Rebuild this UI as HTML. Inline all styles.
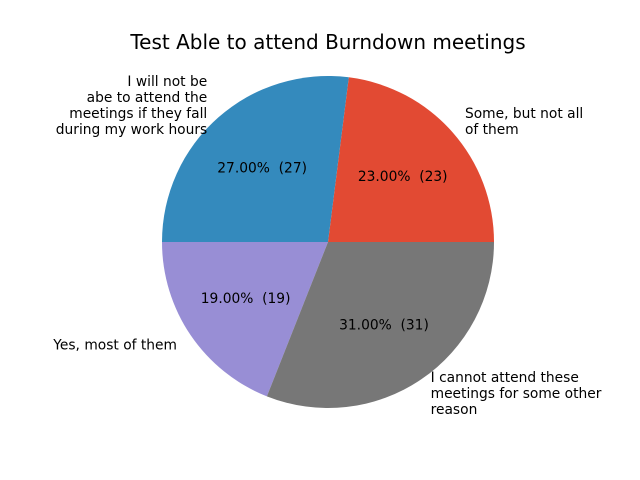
<!DOCTYPE html>
<html><head><meta charset="utf-8"><style>
body{margin:0;background:#fff}
svg{display:block;font-family:"DejaVu Sans","Liberation Sans",sans-serif}
text{white-space:pre}
</style></head><body>
<svg id="c" width="640" height="480">
<text x="328" y="49" text-anchor="middle" font-size="20">Test Able to attend Burndown meetings</text>
</svg>
<script>
const categories=[["Some, but not all","of them"],["I will not be","abe to attend the","meetings if they fall","during my work hours"],["Yes, most of them"],["I cannot attend these","meetings for some other","reason"]];
const values=[23,27,19,31];
const colors=["#E24A33","#348ABD","#988ED5","#777777"];
const svg=document.getElementById('c');
const NS="http://www.w3.org/2000/svg";
const cx=328,cy=242,R=166;
const total=values.reduce((a,b)=>a+b,0);
let a0=0;
function pt(a,r){return [cx+r*Math.cos(a),cy-r*Math.sin(a)];}
values.forEach((v,i)=>{
  const a1=a0+v/total*2*Math.PI;
  const p0=pt(a0,R),p1=pt(a1,R);
  const path=document.createElementNS(NS,'path');
  path.setAttribute('d',`M${cx},${cy}L${p0[0]},${p0[1]}A${R},${R} 0 ${a1-a0>Math.PI?1:0} 0 ${p1[0]},${p1[1]}Z`);
  path.setAttribute('fill',colors[i]);
  
  
  svg.appendChild(path);
  const m=(a0+a1)/2;
  const pp=pt(m,R*0.6);
  const t=document.createElementNS(NS,'text');
  t.setAttribute('x',pp[0]);t.setAttribute('y',pp[1]+5);
  t.setAttribute('text-anchor','middle');t.setAttribute('font-size','13.8');
  t.setAttribute('xml:space','preserve');
  
  
  t.textContent=(v/total*100).toFixed(2)+'%  ('+v+')';
  svg.appendChild(t);
  const lp=pt(m,R*1.1);
  const lines=categories[i];
  const lt=document.createElementNS(NS,'text');
  lt.setAttribute('font-size','13.8');
  lt.setAttribute('text-anchor',lp[0]>=cx?'start':'end');
  
  
  const lh=16,start=lp[1]-(lines.length-1)*lh/2+5;
  lines.forEach((s,j)=>{
    const ts=document.createElementNS(NS,'tspan');
    ts.setAttribute('x',lp[0]);ts.setAttribute('y',start+j*lh);
    ts.textContent=s;lt.appendChild(ts);
  });
  svg.appendChild(lt);
  a0=a1;
});
</script>
</body></html>
